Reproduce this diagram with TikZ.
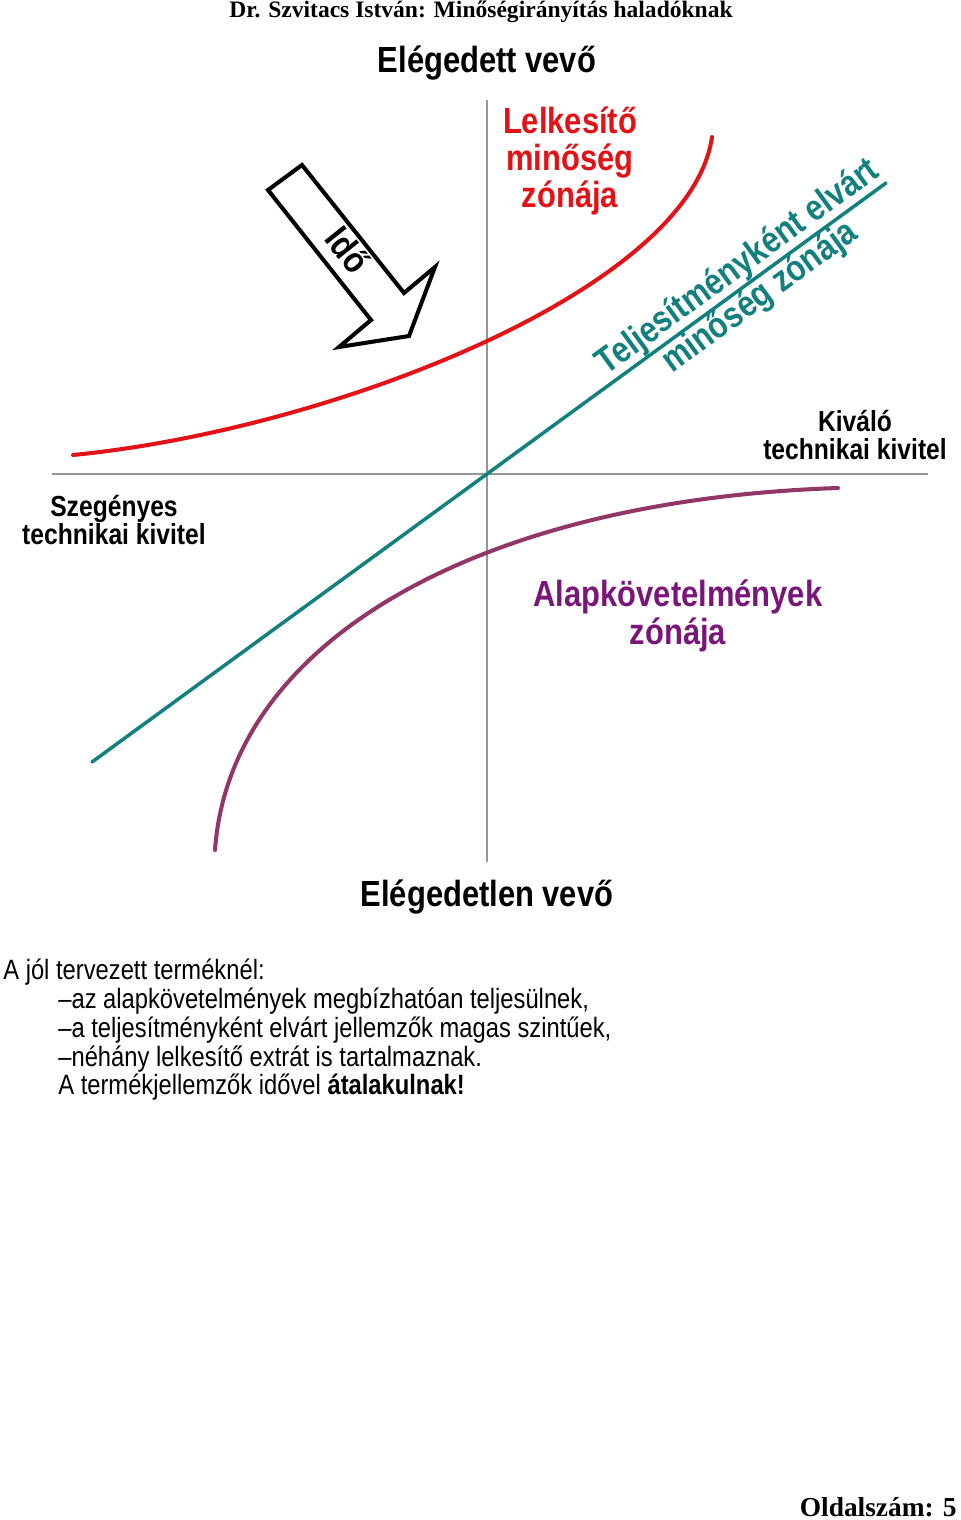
\documentclass[tikz,border=0pt]{standalone}
\usepackage{fontspec}
\setmainfont{Liberation Serif}
\newfontfamily\arialn[FakeStretch = 0.85]{Liberation Sans}
\usepackage{tikz}

\definecolor{axisgray}{RGB}{150,150,150}
\definecolor{lelkred}{RGB}{226,18,22}
\definecolor{teljteal}{RGB}{18,128,126}
\definecolor{alapcurve}{RGB}{146,54,104}
\definecolor{alaptext}{RGB}{122,22,122}

\begin{document}
\begin{tikzpicture}[x = 0.02cm, y = -0.02cm,
  axis/.style = {color = axisgray, line width = 0.85pt},
  zone/.style = {line width = 2.3pt, line cap = round},
  biglabel/.style = {font = \arialn\bfseries\fontsize{20.7}{21.3}\selectfont, align = center, inner sep = 0pt},
  techlabel/.style = {font = \arialn\bfseries\fontsize{16.5}{16.4}\selectfont, align = center, inner sep = 0pt},
  bodyline/.style = {font = \arialn\fontsize{15.9}{16.4}\selectfont, anchor = base west, inner sep = 0pt}]
\useasboundingbox (0, 0) rectangle (960, 1520);
\node (header) at (481, 18) [anchor = base, inner sep = 0pt,
  font = \bfseries\fontsize{13.4}{16}\selectfont] {Dr. Szvitacs István: Minőségirányítás haladóknak};
% axes
\draw[axis] (487, 100) coordinate (ytop) -- (487, 862) coordinate (ybot);
\draw[axis] (52, 474) coordinate (xleft) -- (928, 474) coordinate (xright);
\coordinate (origo) at (487, 474);
% zones
\draw[zone, color = lelkred] (73, 455) .. controls (330, 430) and (690, 290) .. (712, 137);
\draw[zone, color = alapcurve] (215, 850) .. controls (230, 640) and (480, 500) .. (838, 488);
\draw[color = teljteal, line width = 2pt, line cap = round] (92, 762) coordinate (tlow) -- (886, 183) coordinate (thigh);
% time arrow
\draw[line width = 2.3pt, fill = white] (268, 190) -- (302, 165) -- (404, 293) -- (435, 267) -- (409, 336) -- (339, 347) -- (371, 320) -- cycle;
\node (ido) at (348, 250) [biglabel, rotate = -51.5] {Idő};
% labels
\node (elegedett) at (487, 73) [biglabel, anchor = base] {Elégedett vevő};
\node (elegedetlen) at (487, 906) [biglabel, anchor = base] {Elégedetlen vevő};
\node (lelkesito) at (570, 161) [biglabel, text = lelkred] {Lelkesítő\\minőség\\zónája};
\node (alap) at (678, 616) [biglabel, text = alaptext] {Alapkövetelmények\\zónája};
\path (origo) -- (thigh) node (telj) [pos = 0.658, sloped, biglabel, text = teljteal] {Teljesítményként elvárt\\minőség zónája};
\node (kivalo) at (855, 435) [techlabel] {Kiváló\\technikai kivitel};
\node (szegenyes) at (114, 520) [techlabel] {Szegényes\\technikai kivitel};
% text below
\node (sor1) at (3, 979) [bodyline] {A jól tervezett terméknél:};
\node (sor2) at (58, 1008) [bodyline] {\textendash az alapkövetelmények megbízhatóan teljesülnek,};
\node (sor3) at (58, 1037) [bodyline] {\textendash a teljesítményként elvárt jellemzők magas szintűek,};
\node (sor4) at (58, 1066) [bodyline] {\textendash néhány lelkesítő extrát is tartalmaznak.};
\node (sor5) at (58, 1094) [bodyline] {A termékjellemzők idővel \textbf{átalakulnak!}};
\node (oldal) at (957, 1516) [anchor = base east, inner sep = 0pt,
  font = \bfseries\fontsize{15.6}{18}\selectfont] {Oldalszám: 5};
\end{tikzpicture}
\end{document}
